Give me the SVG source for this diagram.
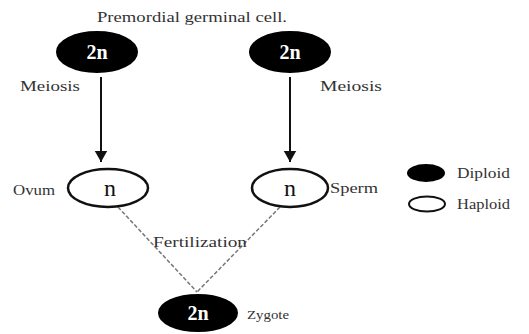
<svg xmlns="http://www.w3.org/2000/svg" width="529" height="334" viewBox="0 0 529 334" font-family="'Liberation Serif', 'Times New Roman', serif">
<style>
text{font-family:'Liberation Serif','Times New Roman',serif;fill:#333;}
.lbl{font-size:15px;}
.dip{fill:#000;stroke:#000;stroke-width:2;}
.hap{fill:#fff;stroke:#111;stroke-width:2.5;}
.w{fill:#fff;font-size:20px;font-weight:bold;text-anchor:middle;}
.b{fill:#111;font-size:24px;text-anchor:middle;}
.arr{stroke:#111;stroke-width:2;fill:none;}
.dash{stroke:#777;stroke-width:1.5;stroke-dasharray:4 2;fill:none;}
</style>
<defs>
<marker id="ah" viewBox="0 0 14 18" refX="14" refY="9" markerWidth="18" markerHeight="14" orient="auto" markerUnits="userSpaceOnUse">
<path d="M0,1 L14,9 L0,17 z" fill="#111"/>
</marker>
</defs>
<text class="lbl" x="97" y="22" textLength="190" lengthAdjust="spacingAndGlyphs">Premordial germinal cell.</text>
<g id="connectors">
<line class="arr" x1="101" y1="77" x2="101" y2="162" marker-end="url(#ah)"/>
<line class="arr" x1="290" y1="77" x2="290" y2="162" marker-end="url(#ah)"/>
<line class="dash" x1="118" y1="207" x2="197" y2="292"/>
<line class="dash" x1="280" y1="207" x2="197" y2="292"/>
<text class="lbl" x="20" y="91" textLength="60" lengthAdjust="spacingAndGlyphs">Meiosis</text>
<text class="lbl" x="320" y="91" textLength="62" lengthAdjust="spacingAndGlyphs">Meiosis</text>
<text class="lbl" x="153" y="247" textLength="94" lengthAdjust="spacingAndGlyphs">Fertilization</text>
</g>
<g id="pgc-left">
<ellipse class="dip" cx="97" cy="52" rx="40" ry="20"/>
<text class="w" x="97" y="59">2n</text>
</g>
<g id="pgc-right">
<ellipse class="dip" cx="290" cy="52" rx="40" ry="20"/>
<text class="w" x="290" y="59">2n</text>
</g>
<g id="ovum">
<ellipse class="hap" cx="108" cy="188" rx="40" ry="19"/>
<text class="b" x="110" y="196">n</text>
<text class="lbl" x="13" y="195" textLength="42" lengthAdjust="spacingAndGlyphs">Ovum</text>
</g>
<g id="sperm">
<ellipse class="hap" cx="290" cy="188" rx="38" ry="19"/>
<text class="b" x="290" y="196">n</text>
<text class="lbl" x="330" y="193" textLength="48" lengthAdjust="spacingAndGlyphs">Sperm</text>
</g>
<g id="zygote">
<ellipse class="dip" cx="198" cy="313" rx="39" ry="18"/>
<text class="w" x="198" y="320">2n</text>
<text class="lbl" x="247" y="319" style="font-size:13px" textLength="42" lengthAdjust="spacingAndGlyphs">Zygote</text>
</g>
<g id="legend">
<ellipse class="dip" cx="426" cy="173" rx="18" ry="8"/>
<text class="lbl" x="457" y="178" textLength="53" lengthAdjust="spacingAndGlyphs">Diploid</text>
<ellipse class="hap" cx="427" cy="204" rx="18" ry="7.5" style="stroke-width:2"/>
<text class="lbl" x="457" y="209" textLength="53" lengthAdjust="spacingAndGlyphs">Haploid</text>
</g>
</svg>
